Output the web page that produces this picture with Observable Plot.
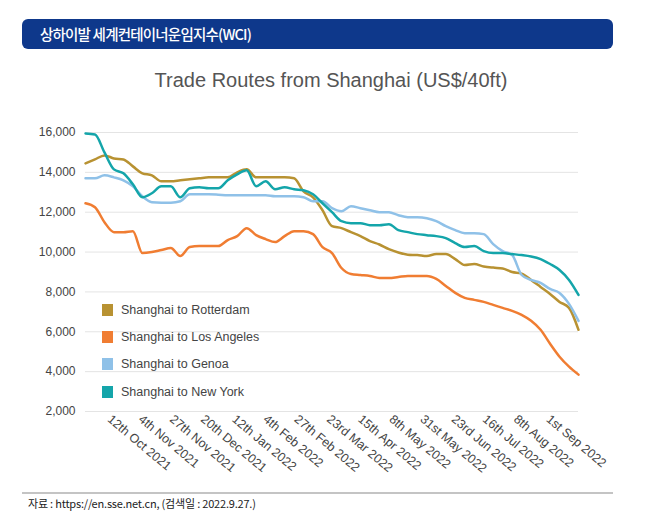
<!DOCTYPE html>
<html><head><meta charset="utf-8">
<script src="https://cdn.jsdelivr.net/npm/d3@7"></script>
<script src="https://cdn.jsdelivr.net/npm/@observablehq/plot@0.6"></script>
<style>
html,body{margin:0;padding:0;background:#fff;}
body{width:662px;height:526px;position:relative;overflow:hidden;font-family:"Liberation Sans",Arial,sans-serif;}
#hdr{position:absolute;left:22px;top:19px;width:591px;height:30px;background:#0e388b;border-radius:6px;color:#fff;font-family:"Noto Sans CJK KR",sans-serif;font-size:14.5px;font-weight:500;letter-spacing:-0.8px;line-height:30px;padding-left:18px;box-sizing:border-box;white-space:nowrap;}
#title{position:absolute;left:0;top:70px;width:662px;text-align:center;font-size:20px;line-height:20px;color:#555;}
#chart{position:absolute;left:0;top:110px;}
#legend{position:absolute;left:102px;top:296px;font-size:12.5px;color:#444;}
#legend .item{display:flex;align-items:center;height:27.3px;}
#legend .sw{width:11px;height:12px;margin-right:8px;}
#rule{position:absolute;left:22px;top:492px;width:591px;height:2px;background:#c4c4c4;}
#cap{position:absolute;left:28px;top:495px;font-family:"Noto Sans CJK KR",sans-serif;font-size:11px;line-height:16px;color:#222;letter-spacing:-0.2px;}
</style></head>
<body>
<div id="hdr">상하이발 세계컨테이너운임지수(WCI)</div>
<div id="title">Trade Routes from Shanghai (US$/40ft)</div>
<div id="chart"></div>
<div id="legend"></div>
<div id="rule"></div>
<div id="cap">자료 : https://en.sse.net.cn, (검색일 : 2022.9.27.)</div>
<script>
const weeks = ["2021-09-23","2021-09-30","2021-10-07","2021-10-14","2021-10-21","2021-10-28","2021-11-04","2021-11-11","2021-11-18","2021-11-25","2021-12-02","2021-12-09","2021-12-16","2021-12-23","2021-12-30","2022-01-06","2022-01-13","2022-01-20","2022-01-27","2022-02-03","2022-02-10","2022-02-17","2022-02-24","2022-03-03","2022-03-10","2022-03-17","2022-03-24","2022-03-31","2022-04-07","2022-04-14","2022-04-21","2022-04-28","2022-05-05","2022-05-12","2022-05-19","2022-05-26","2022-06-02","2022-06-09","2022-06-16","2022-06-23","2022-06-30","2022-07-07","2022-07-14","2022-07-21","2022-07-28","2022-08-04","2022-08-11","2022-08-18","2022-08-25","2022-09-01","2022-09-08","2022-09-15","2022-09-22"];

const rotterdam = [14450,14650,14850,14700,14650,14300,13950,13850,13550,13550,13600,13650,13700,13750,13750,13750,14000,14150,13750,13750,13750,13750,13700,13050,12750,12100,11300,11200,11000,10800,10550,10380,10150,9980,9870,9850,9800,9900,9900,9650,9350,9400,9280,9220,9180,9000,8920,8600,8250,7900,7500,7200,6100];
const losAngeles = [12450,12250,11500,11000,11000,11050,9950,10000,10100,10200,9800,10250,10300,10300,10300,10600,10800,11200,10850,10650,10500,10800,11050,11050,10900,10250,9950,9200,8900,8850,8800,8700,8700,8750,8800,8800,8800,8650,8300,7950,7700,7600,7500,7350,7200,7050,6850,6550,6100,5400,4750,4250,3850];
const genoa = [13700,13700,13850,13750,13600,13300,12800,12500,12480,12480,12550,12900,12900,12900,12880,12850,12850,12850,12850,12850,12800,12800,12800,12750,12550,12550,12200,12050,12300,12200,12100,12000,12000,11850,11750,11750,11700,11550,11300,11100,10950,10950,10900,10400,10050,9850,8850,8600,8450,8150,7950,7400,6550];
const newYork = [15950,15900,15000,14150,13950,13400,12750,12950,13300,13300,12750,13200,13250,13200,13200,13600,13900,14100,13300,13550,13150,13250,13150,13100,12900,12450,12000,11550,11450,11450,11350,11350,11400,11100,11000,10900,10850,10800,10700,10450,10250,10300,10050,9950,9950,9900,9850,9780,9650,9400,9100,8600,7850];

const routeNames = ["Shanghai to Rotterdam","Shanghai to Los Angeles","Shanghai to Genoa","Shanghai to New York"];
const routeColors = ["#b89232","#f07d32","#8fc1e8","#14a5aa"];
const yTicks = [2000,4000,6000,8000,10000,12000,14000,16000];
const tickDates = ["2021-10-12","2021-11-04","2021-11-27","2021-12-20","2022-01-12","2022-02-04","2022-02-27","2022-03-23","2022-04-15","2022-05-08","2022-05-31","2022-06-23","2022-07-16","2022-08-08","2022-09-01"];
const tickLabels = ["12th Oct 2021","4th Nov 2021","27th Nov 2021","20th Dec 2021","12th Jan 2022","4th Feb 2022","27th Feb 2022","23rd Mar 2022","15th Apr 2022","8th May 2022","31st May 2022","23rd Jun 2022","16th Jul 2022","8th Aug 2022","1st Sep 2022"];

const seriesValues = [rotterdam, losAngeles, genoa, newYork];
const data = [];
seriesValues.forEach((vals, s) => vals.forEach((v, i) => data.push({date: new Date(weeks[i]), value: v, route: routeNames[s]})));
const tickDateObjs = tickDates.map(d => new Date(d));
const labelOf = new Map(tickDates.map((d, i) => [+new Date(d), tickLabels[i]]));

const chart = Plot.plot({
  width: 662, height: 370,
  marginLeft: 85, marginRight: 84, marginTop: 22, marginBottom: 69,
  style: {fontFamily: "Liberation Sans, Arial, sans-serif", fontSize: "12px", color: "#444", background: "transparent", overflow: "visible"},
  x: {type: "utc", domain: [new Date(weeks[0]), new Date(weeks[weeks.length - 1])]},
  y: {domain: [2000, 16000]},
  color: {domain: routeNames, range: routeColors},
  marks: [
    Plot.ruleY(yTicks, {stroke: "#e4e4e4", strokeWidth: 1}),
    Plot.axisY({ticks: yTicks, tickSize: 0, tickPadding: 10, tickFormat: d3.format(","), label: null, fontSize: 12}),
    Plot.axisX({ticks: tickDateObjs, tickFormat: d => labelOf.get(+d), tickRotate: 40, tickSize: 0, tickPadding: 6, dx: -2, label: null, textAnchor: "start", fontSize: 12.5}),
    Plot.line(data, {x: "date", y: "value", stroke: "route", strokeWidth: 2.5, curve: "monotone-x"})
  ]
});
document.getElementById("chart").appendChild(chart);

const leg = document.getElementById("legend");
routeNames.forEach((n, i) => {
  const it = document.createElement("div"); it.className = "item";
  const sw = document.createElement("div"); sw.className = "sw"; sw.style.background = routeColors[i];
  const tx = document.createElement("span"); tx.textContent = n;
  it.appendChild(sw); it.appendChild(tx); leg.appendChild(it);
});
</script>
</body></html>
